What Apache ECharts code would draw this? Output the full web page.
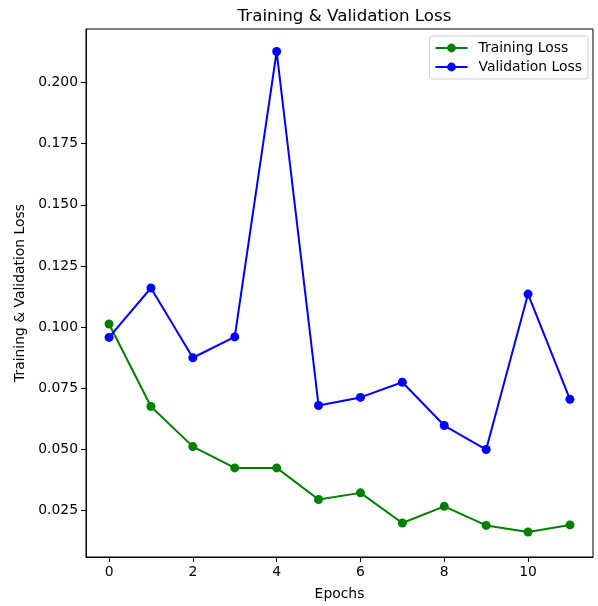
<!DOCTYPE html>
<html>
<head>
<meta charset="utf-8">
<script src="https://cdn.jsdelivr.net/npm/echarts@6/dist/echarts.min.js"></script>
<style>html,body{margin:0;padding:0;background:#fff}#c{width:598px;height:606px}</style>
</head>
<body>
<div id="c"></div>
<script>
const epochs = [0,1,2,3,4,5,6,7,8,9,10,11];
const trainingLoss = [0.1013,0.0676,0.0512,0.0425,0.0425,0.0296,0.0323,0.0200,0.0268,0.0190,0.0163,0.0192];
const validationLoss = [0.0958,0.1160,0.0875,0.0960,0.2126,0.0680,0.0713,0.0775,0.0598,0.0500,0.1135,0.0705];
const xTicks = [0,2,4,6,8,10];
const yTicks = [0.025,0.050,0.075,0.100,0.125,0.150,0.175,0.200];

const font = 'DejaVu Sans';
const chart = echarts.init(document.getElementById('c'), null, {renderer:'canvas'});
chart.setOption({
  animation:false,
  backgroundColor:'#fff',
  textStyle:{fontFamily:font},
  title:{
    text:'Training & Validation Loss',
    left:339.5, top:3, textAlign:'center',
    textStyle:{fontFamily:font,fontSize:16.7,fontWeight:'normal',color:'#000'}
  },
  legend:{
    orient:'vertical', right:10, top:36,
    backgroundColor:'#fff', borderColor:'#d0d0d0', borderWidth:1, borderRadius:3,
    padding:[5,6,5,5], itemGap:5, itemWidth:32, itemHeight:11,
    textStyle:{fontFamily:font,fontSize:13.9,color:'#000',padding:[0,0,0,6]},
    data:['Training Loss','Validation Loss']
  },
  grid:{left:86,right:5,top:29,bottom:49,show:true,borderColor:'#000',borderWidth:1,containLabel:false},
  xAxis:{
    type:'value', min:-0.55, max:11.55,
    name:'Epochs', nameLocation:'middle', nameGap:30,
    nameTextStyle:{fontFamily:font,fontSize:13.9,color:'#000'},
    axisLine:{show:true,onZero:false,lineStyle:{color:'#000',width:1}},
    axisTick:{show:true,customValues:xTicks,length:5,lineStyle:{color:'#000'}},
    axisLabel:{customValues:xTicks,fontFamily:font,fontSize:13.9,color:'#000',margin:8},
    splitLine:{show:false}
  },
  yAxis:{
    type:'value', min:0.0061, max:0.2218,
    name:'Training & Validation Loss', nameLocation:'middle', nameGap:58,
    nameTextStyle:{fontFamily:font,fontSize:13.9,color:'#000'},
    axisLine:{show:true,onZero:false,lineStyle:{color:'#000',width:1}},
    axisTick:{show:true,customValues:yTicks,length:5,lineStyle:{color:'#000'}},
    axisLabel:{customValues:yTicks,fontFamily:font,fontSize:13.9,color:'#000',margin:8,
      formatter:v=>v.toFixed(3)},
    splitLine:{show:false}
  },
  series:[
    {name:'Training Loss',type:'line',data:epochs.map((e,i)=>[e,trainingLoss[i]]),
     color:'#008000',symbol:'circle',symbolSize:9,lineStyle:{width:2,color:'#008000'},
     itemStyle:{color:'#008000'}},
    {name:'Validation Loss',type:'line',data:epochs.map((e,i)=>[e,validationLoss[i]]),
     color:'#0000ff',symbol:'circle',symbolSize:9,lineStyle:{width:2,color:'#0000ff'},
     itemStyle:{color:'#0000ff'}}
  ]
});
</script>
</body>
</html>
